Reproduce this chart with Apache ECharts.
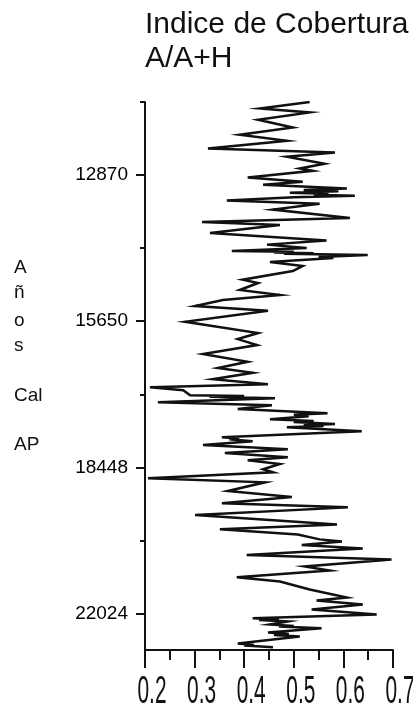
<!DOCTYPE html>
<html>
<head>
<meta charset="utf-8">
<script src="https://cdn.jsdelivr.net/npm/echarts@6/dist/echarts.min.js"></script>
<style>
  html, body { margin: 0; padding: 0; background: #fff; }
  #chart { width: 413px; height: 710px; }
</style>
</head>
<body>
<div id="chart"></div>
<script>
// Sample position down the section (100 units between age ticks, 0 = top)
const depthPos = [
  0, 8.8, 14.3, 24.3, 34.8, 44.8, 53.0, 63.6, 69.1, 75.0,
  84.6, 91.0, 94.2, 103.4, 109.3, 113.4, 118.4, 120.5, 122.0, 124.3,
  125.5, 126.8, 128.4, 130.5, 134.9, 139.4, 147.2, 158.6, 164.1, 168.2,
  179.2, 189.7, 195.2, 199.7, 203.8, 205.0, 206.0, 207.0, 207.8, 209.3,
  212.0, 213.5, 218.9, 224.4, 231.3, 243.2, 247.7, 257.3, 264.2, 271.0,
  279.2, 285.7, 300.8, 316.2, 324.5, 332.7, 345.0, 355.6, 364.2, 370.7,
  379.3, 386.2, 390.3, 394.4, 401.2, 402.5, 403.5, 405.3, 410.8, 414.9,
  420.0, 425.9, 428.0, 430.0, 434.1, 436.5, 438.0, 440.6, 442.5, 443.5,
  445.1, 450.6, 458.8, 460.5, 461.5, 464.3, 469.4, 475.3, 480.3, 486.2,
  490.3, 495.4, 502.7, 506.8, 515.0, 520.5, 532.4, 540.6, 549.3, 554.8,
  565.3, 578.1, 584.9, 591.8, 598.6, 601.4, 606.4, 611.0, 620.1, 626.0,
  635.6, 641.1, 650.3, 656.2, 667.2, 678.1, 682.2, 687.7, 694.6, 701.4,
  706.5, 708.0, 709.0, 711.0, 715.1, 717.0, 718.0, 720.2, 726.1, 728.0,
  729.5, 731.6, 741.2, 743.0, 744.0, 746.3
];

// Cover index A/(A+H) at each sample
const coverIndex = [
  0.532, 0.432, 0.532, 0.428, 0.498, 0.391, 0.486, 0.327, 0.583, 0.486,
  0.562, 0.512, 0.538, 0.407, 0.518, 0.438, 0.607, 0.520, 0.590, 0.492,
  0.570, 0.540, 0.623, 0.500, 0.365, 0.552, 0.458, 0.613, 0.315, 0.472,
  0.331, 0.566, 0.446, 0.526, 0.375, 0.500, 0.460, 0.540, 0.480, 0.649,
  0.550, 0.580, 0.452, 0.518, 0.498, 0.397, 0.428, 0.391, 0.472, 0.357,
  0.301, 0.448, 0.281, 0.428, 0.387, 0.426, 0.317, 0.407, 0.347, 0.417,
  0.337, 0.448, 0.210, 0.277, 0.291, 0.400, 0.330, 0.462, 0.226, 0.456,
  0.387, 0.568, 0.500, 0.530, 0.452, 0.540, 0.500, 0.583, 0.520, 0.560,
  0.486, 0.637, 0.355, 0.390, 0.370, 0.417, 0.317, 0.488, 0.361, 0.488,
  0.407, 0.472, 0.438, 0.458, 0.206, 0.442, 0.367, 0.496, 0.355, 0.609,
  0.301, 0.587, 0.351, 0.508, 0.552, 0.597, 0.516, 0.639, 0.405, 0.697,
  0.522, 0.572, 0.385, 0.472, 0.532, 0.607, 0.546, 0.639, 0.536, 0.667,
  0.417, 0.470, 0.430, 0.488, 0.452, 0.500, 0.470, 0.556, 0.448, 0.490,
  0.460, 0.512, 0.387, 0.420, 0.400, 0.458
];

// Age ticks (cal yr BP) on the vertical axis
const ageTickPos = [100, 300, 500, 700];
const ageTickLabels = ['12870', '15650', '18448', '22024'];
const ageMinorTickPos = [0, 200, 400, 600];

// Horizontal axis ticks
const xTickValues = [0.2, 0.3, 0.4, 0.5, 0.6, 0.7];
const xTickLabels = ['0.2', '0.3', '0.4', '0.5', '0.6', '0.7'];

// Vertical axis title, stacked word by word
const axisTitleParts = ['A', 'ñ', 'o', 's', 'Cal', 'AP'];
const axisTitleY = [268, 293, 321, 346, 396, 445];

const INK = '#111';
const FONT = '"Liberation Sans", Arial, Helvetica, sans-serif';

const chart = echarts.init(document.getElementById('chart'), null, { renderer: 'canvas' });

const lineData = depthPos.map((d, i) => [coverIndex[i], d]);

chart.setOption({
  animation: false,
  backgroundColor: '#fff',
  title: {
    text: 'Indice de Cobertura\nA/A+H',
    left: 145,
    top: 8,
    padding: 0,
    textStyle: {
      fontFamily: FONT,
      fontSize: 30,
      fontWeight: 'normal',
      lineHeight: 34,
      color: INK
    }
  },
  grid: { left: 145, right: 20, top: 102, bottom: 60, containLabel: false },
  xAxis: {
    type: 'value',
    min: 0.2,
    max: 0.7,
    interval: 0.1,
    axisLine: { show: true, onZero: false, lineStyle: { color: INK, width: 2 } },
    axisTick: { show: true, length: 18, lineStyle: { color: INK, width: 2 } },
    minorTick: { show: true, splitNumber: 2, length: 10, lineStyle: { color: INK, width: 2 } },
    axisLabel: { show: false },
    splitLine: { show: false },
    minorSplitLine: { show: false }
  },
  yAxis: [
    {
      type: 'value',
      inverse: true,
      min: 0,
      max: 750,
      position: 'left',
      axisLine: { show: true, onZero: false, lineStyle: { color: INK, width: 2 } },
      axisTick: { show: true, customValues: ageTickPos, length: 9, lineStyle: { color: INK, width: 2 } },
      axisLabel: {
        show: true,
        customValues: ageTickPos,
        formatter: v => ageTickLabels[ageTickPos.indexOf(v)] || '',
        margin: 17,
        fontFamily: FONT,
        fontSize: 19,
        fontWeight: 'normal',
        color: '#000'
      },
      splitLine: { show: false }
    },
    {
      type: 'value',
      inverse: true,
      min: 0,
      max: 750,
      position: 'left',
      axisLine: { show: false },
      axisTick: { show: true, customValues: ageMinorTickPos, length: 5, lineStyle: { color: INK, width: 2 } },
      axisLabel: { show: false },
      splitLine: { show: false }
    }
  ],
  series: [{
    type: 'line',
    xAxisIndex: 0,
    yAxisIndex: 0,
    data: lineData,
    showSymbol: false,
    symbol: 'none',
    smooth: false,
    lineStyle: { color: INK, width: 2.5, join: 'miter' },
    silent: true
  }]
});

// Tall, condensed tick labels under the horizontal axis
const graphics = [];
xTickValues.forEach((v, i) => {
  const px = chart.convertToPixel({ xAxisIndex: 0 }, v);
  graphics.push({
    type: 'text',
    x: px + 7,
    y: 693,
    scaleX: 0.55,
    style: {
      text: xTickLabels[i],
      font: '38px ' + FONT,
      fill: INK,
      textAlign: 'center',
      textVerticalAlign: 'middle'
    }
  });
});

// Stacked vertical-axis title
axisTitleParts.forEach((t, i) => {
  graphics.push({
    type: 'text',
    x: 14,
    y: axisTitleY[i],
    style: {
      text: t,
      font: '19px ' + FONT,
      fill: INK,
      textAlign: 'left',
      textVerticalAlign: 'middle'
    }
  });
});

chart.setOption({ graphic: graphics });
</script>
</body>
</html>
